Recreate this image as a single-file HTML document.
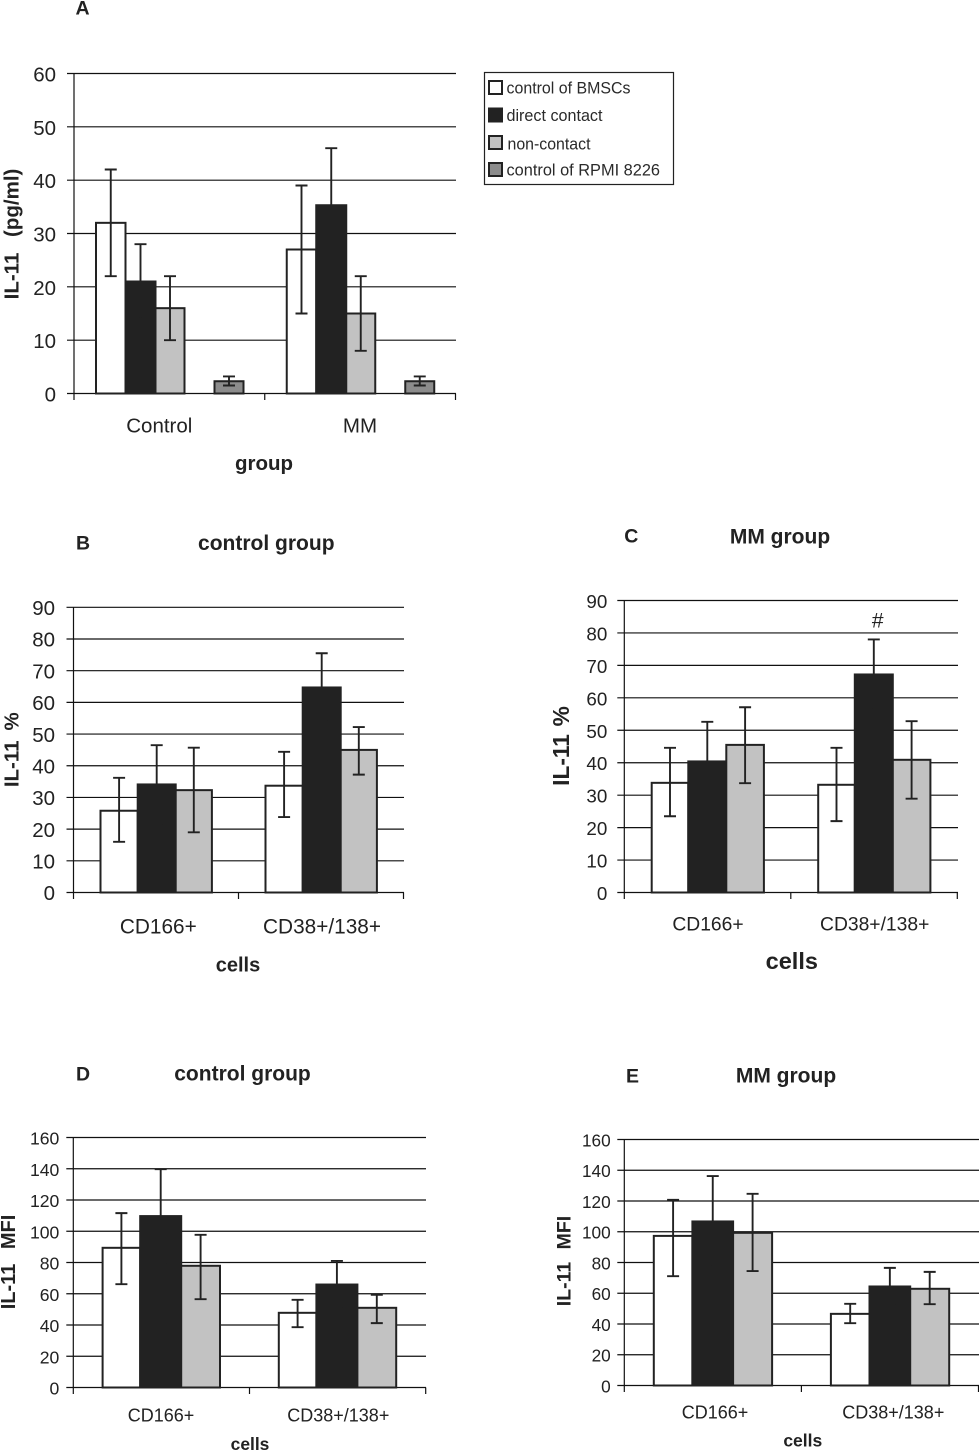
<!DOCTYPE html>
<html lang="en">
<head>
<meta charset="utf-8">
<title>IL-11 bar charts</title>
<style>
html,body{margin:0;padding:0;background:#fff;}
svg{display:block;}
text{font-family:"Liberation Sans",Arial,sans-serif;fill:#222;}
.b{font-weight:bold;}
.grid{stroke:#111;stroke-width:1.2;}
.axis{stroke:#111;stroke-width:1.2;}
.bar{stroke:#222;stroke-width:2;}
.err{stroke:#222;stroke-width:1.9;fill:none;}
.leg{font-size:16.5px;fill:#2a2a2a;}
</style>
</head>
<body>
<svg id="figure" xmlns="http://www.w3.org/2000/svg" width="979" height="1451" viewBox="0 0 979 1451">
  <rect x="0" y="0" width="979" height="1451" fill="#fff"/>

  <text class="b" x="75.5" y="14.3" font-size="19.5">A</text>
  <text class="b" x="264" y="470" font-size="20.5" text-anchor="middle">group</text>
  <text class="b" font-size="20.5" word-spacing="10" text-anchor="middle" transform="translate(18.5 234) rotate(-90)">IL-11 (pg/ml)</text>

  <g>
    <rect x="484.5" y="72.5" width="189" height="112" fill="#fff" stroke="#222" stroke-width="1.2"/>
    <g>
      <rect x="489" y="81" width="13" height="13" fill="#fff" stroke="#222" stroke-width="2"/>
      <text class="leg" x="506.5" y="93.3" textLength="124" lengthAdjust="spacingAndGlyphs">control of BMSCs</text>
    </g>
    <g>
      <rect x="489" y="108.5" width="13" height="13" fill="#222" stroke="#222" stroke-width="2"/>
      <text class="leg" x="506.5" y="121" textLength="96" lengthAdjust="spacingAndGlyphs">direct contact</text>
    </g>
    <g>
      <rect x="489" y="136" width="13" height="13" fill="#c2c2c2" stroke="#222" stroke-width="2"/>
      <text class="leg" x="507.5" y="149.3" textLength="83" lengthAdjust="spacingAndGlyphs">non-contact</text>
    </g>
    <g>
      <rect x="489" y="163" width="13" height="13" fill="#8c8c8c" stroke="#222" stroke-width="2"/>
      <text class="leg" x="506.5" y="175.3" textLength="153.5" lengthAdjust="spacingAndGlyphs">control of RPMI 8226</text>
    </g>
  </g>

  <text class="b" x="76" y="549.3" font-size="19.5">B</text>
  <text class="b" x="266.3" y="550" font-size="21" text-anchor="middle">control group</text>
  <text class="b" x="238" y="971.5" font-size="20" text-anchor="middle">cells</text>
  <text class="b" font-size="20.5" word-spacing="4.3" text-anchor="middle" transform="translate(18.3 749.7) rotate(-90)">IL-11 %</text>

  <text class="b" x="624.3" y="542.7" font-size="19.5">C</text>
  <text class="b" x="780" y="543.3" font-size="21" text-anchor="middle">MM group</text>
  <text class="b" x="791.8" y="969" font-size="23.5" text-anchor="middle">cells</text>
  <text class="b" font-size="22.7" word-spacing="1.5" text-anchor="middle" transform="translate(569 746) rotate(-90)">IL-11 %</text>
  <text x="877.7" y="627.3" font-size="21" text-anchor="middle">#</text>

  <text class="b" x="76" y="1080.7" font-size="19.5">D</text>
  <text class="b" x="242.5" y="1080.7" font-size="21" text-anchor="middle">control group</text>
  <text class="b" x="250" y="1450" font-size="17.4" text-anchor="middle">cells</text>
  <text class="b" font-size="20" word-spacing="9" text-anchor="middle" transform="translate(15 1262) rotate(-90)">IL-11 MFI</text>

  <text class="b" x="626" y="1082.7" font-size="19.5">E</text>
  <text class="b" x="786" y="1082.7" font-size="21" text-anchor="middle">MM group</text>
  <text class="b" x="802.8" y="1446.7" font-size="17.5" text-anchor="middle">cells</text>
  <text class="b" font-size="19.5" word-spacing="7" text-anchor="middle" transform="translate(570.7 1261) rotate(-90)">IL-11 MFI</text>
</svg>

<script>
// ---- shared data ----
const seriesKeys = ['control-of-bmscs', 'direct-contact', 'non-contact', 'control-of-rpmi-8226'];

// ---- panel A ----
const categoriesA = ['Control', 'MM'];
const ticksA = [0, 10, 20, 30, 40, 50, 60];
const meansA = [[32, 21, 16, 2.3], [27, 35.3, 15, 2.3]];
const upperA = [[42, 28, 22, 3.2], [39, 46, 22, 3.2]];
const lowerA = [[22, 14, 10, 1.5], [15, 24.6, 8, 1.5]];

// ---- panel B ----
const categoriesB = ['CD166+', 'CD38+/138+'];
const ticksB = [0, 10, 20, 30, 40, 50, 60, 70, 80, 90];
const meansB = [[25.8, 34.1, 32.3], [33.7, 64.7, 45]];
const upperB = [[36.2, 46.5, 45.7], [44.4, 75.5, 52.2]];
const lowerB = [[16, 21.7, 19], [23.8, 54, 37.2]];

// ---- panel C ----
const categoriesC = ['CD166+', 'CD38+/138+'];
const ticksC = [0, 10, 20, 30, 40, 50, 60, 70, 80, 90];
const meansC = [[33.8, 40.4, 45.5], [33.2, 67.2, 40.9]];
const upperC = [[44.6, 52.6, 57.1], [44.6, 78, 52.8]];
const lowerC = [[23.5, 28.2, 33.7], [22, 56.4, 28.9]];

// ---- panel D ----
const categoriesD = ['CD166+', 'CD38+/138+'];
const ticksD = [0, 20, 40, 60, 80, 100, 120, 140, 160];
const meansD = [[89.4, 109.7, 77.9], [47.8, 65.9, 51]];
const upperD = [[111.6, 139.7, 97.7], [56.1, 81, 59.3]];
const lowerD = [[66.1, 79.7, 56.5], [38.6, 50.8, 41.2]];

// ---- panel E ----
const categoriesE = ['CD166+', 'CD38+/138+'];
const ticksE = [0, 20, 40, 60, 80, 100, 120, 140, 160];
const meansE = [[97.3, 106.7, 99.3], [46.6, 64.4, 62.9]];
const upperE = [[120.8, 136.2, 124.7], [53.1, 76.5, 73.9]];
const lowerE = [[71.1, 77.2, 74.4], [40.5, 52.3, 52.9]];

const NS = 'http://www.w3.org/2000/svg';
const seriesFills = ['#ffffff', '#222222', '#c2c2c2', '#8c8c8c'];

function make(tag, attrs, parent) {
  const el = document.createElementNS(NS, tag);
  for (const k in attrs) el.setAttribute(k, attrs[k]);
  parent.appendChild(el);
  return el;
}

function drawPanel(id, cfg, categories, ticks, means, upper, lower) {
  const root = document.getElementById('figure');
  const panel = make('g', {}, root);
  
  

  const maxTick = Math.max.apply(null, ticks);
  const yScale = v => cfg.y0 - v * (cfg.y0 - cfg.yTop) / maxTick;
  const groupW = (cfg.right - cfg.left) / categories.length;
  const xGroup = i => cfg.left + i * groupW;
  const slotX = (g, slot) => {
    let x = xGroup(g) + cfg.offset;
    for (let i = 0; i < slot; i++) x += cfg.slots[i];
    return x;
  };

  // gridlines and y tick labels
  ticks.forEach(t => {
    const y = yScale(t);
    const line = make('line', {x1: cfg.left - 7, x2: cfg.gridEnd, y1: y, y2: y, class: 'grid'}, panel);
    
    
    const lab = make('text', {x: cfg.labelX, y: y + cfg.labelDy, 'font-size': cfg.tickFont, 'text-anchor': 'end'}, panel);
    
    
    lab.textContent = String(t);
  });

  // axes
  const yAxis = make('line', {x1: cfg.left, x2: cfg.left, y1: cfg.yTop, y2: cfg.y0, class: 'axis'}, panel);
  
  
  for (let i = 0; i <= categories.length; i++) {
    const tick = make('line', {x1: xGroup(i), x2: xGroup(i), y1: cfg.y0, y2: cfg.y0 + 6.5, class: 'axis'}, panel);
    
    
  }

  // bars
  categories.forEach((cat, g) => {
    means[g].forEach((v, s) => {
      const slot = cfg.slotOfSeries[s];
      const bar = make('rect', {
        x: slotX(g, slot), y: yScale(v),
        width: cfg.slots[slot], height: cfg.y0 - yScale(v),
        fill: seriesFills[s], class: 'bar'
      }, panel);
      
      
    });
  });

  // error bars
  categories.forEach((cat, g) => {
    means[g].forEach((v, s) => {
      const slot = cfg.slotOfSeries[s];
      const cx = slotX(g, slot) + cfg.slots[slot] / 2;
      const yHi = yScale(upper[g][s]);
      const yLo = yScale(lower[g][s]);
      const d = 'M' + cx + ' ' + yHi + 'V' + yLo +
        'M' + (cx - 6) + ' ' + yHi + 'H' + (cx + 6) +
        'M' + (cx - 6) + ' ' + yLo + 'H' + (cx + 6);
      const err = make('path', {d: d, class: 'err'}, panel);
      
      
    });
  });

  // category labels
  categories.forEach((cat, g) => {
    const lab = make('text', {x: cfg.catX[g], y: cfg.catY, 'font-size': cfg.catFont, 'text-anchor': 'middle'}, panel);
    
    
    lab.textContent = cat;
  });
}

drawPanel('a', {
  left: 74, right: 455.5, gridEnd: 456, yTop: 73.5, y0: 393.5, offset: 22,
  slots: [29.5, 30, 29, 30, 29], slotOfSeries: [0, 1, 2, 4],
  labelX: 56, labelDy: 8, tickFont: 20.5, catX: [159.3, 360], catY: 432.7, catFont: 20.5
}, categoriesA, ticksA, meansA, upperA, lowerA);

drawPanel('b', {
  left: 73.5, right: 403.5, gridEnd: 404, yTop: 607.3, y0: 892.5, offset: 27,
  slots: [37.2, 38, 36.2], slotOfSeries: [0, 1, 2],
  labelX: 55, labelDy: 7.7, tickFont: 20.5, catX: [158.3, 322], catY: 933.3, catFont: 20.8
}, categoriesB, ticksB, meansB, upperB, lowerB);

drawPanel('c', {
  left: 624.3, right: 957.3, gridEnd: 958, yTop: 600.5, y0: 892.5, offset: 27.4,
  slots: [36.6, 38, 37.6], slotOfSeries: [0, 1, 2],
  labelX: 607.3, labelDy: 7.5, tickFont: 18.8, catX: [708, 874.7], catY: 930.7, catFont: 19.3
}, categoriesC, ticksC, meansC, upperC, lowerC);

drawPanel('d', {
  left: 73.3, right: 425.7, gridEnd: 426, yTop: 1137.5, y0: 1387.5, offset: 29.3,
  slots: [37.6, 41, 38.8], slotOfSeries: [0, 1, 2],
  labelX: 59.3, labelDy: 7, tickFont: 17.6, catX: [161, 338.3], catY: 1421.7, catFont: 18
}, categoriesD, ticksD, meansD, upperD, lowerD);

drawPanel('e', {
  left: 624.3, right: 978.5, gridEnd: 979, yTop: 1139.5, y0: 1385.5, offset: 29.5,
  slots: [38.6, 40.7, 39], slotOfSeries: [0, 1, 2],
  labelX: 610.7, labelDy: 6.8, tickFont: 17.2, catX: [715, 893.3], catY: 1418.3, catFont: 18
}, categoriesE, ticksE, meansE, upperE, lowerE);
</script>
</body>
</html>
